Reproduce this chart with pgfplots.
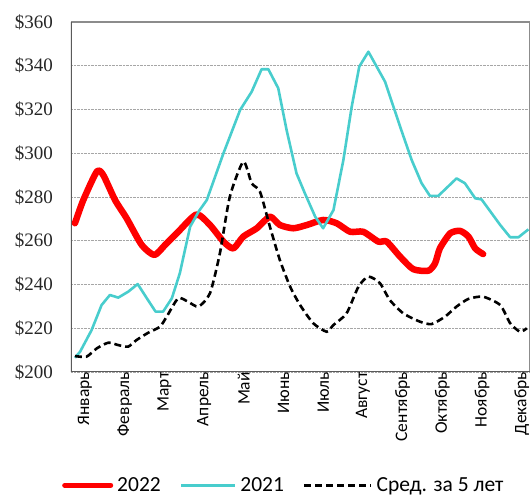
\documentclass[border=0pt]{standalone}
\usepackage{fontspec}
\setmainfont{Liberation Serif}
\newfontfamily\calfont{Carlito}
\usepackage{pgfplots}
\pgfplotsset{compat=1.18}
\definecolor{cyanline}{RGB}{72,205,205}
\definecolor{frameDark}{RGB}{90,90,90}
\definecolor{frameLight}{RGB}{140,140,140}
\begin{document}
\begin{tikzpicture}[x=1pt,y=1pt]
\begin{axis}[
  at={(71pt,128pt)}, anchor=south west,
  scale only axis, width=459pt, height=350pt,
  xmin=-0.10, xmax=11.46, ymin=200, ymax=360,
  xtick={0,1,2,3,4,5,6,7,8,9,10,11},
  xticklabels={Январь,Февраль,Март,Апрель,Май,Июнь,Июль,Август,Сентябрь,Октябрь,Ноябрь,Декабрь},
  xticklabel style={rotate=90, anchor=east, font=\calfont\fontsize{17.5}{20}\selectfont, text=black, inner sep=0pt, xshift=0pt, yshift=-10pt},
  ytick={200,220,240,260,280,300,320,340,360},
  yticklabels={\$200,\$220,\$240,\$260,\$280,\$300,\$320,\$340,\$360},
  yticklabel style={font=\fontsize{19}{22}\selectfont, text=black!85, anchor=east, inner sep=0pt, xshift=-18pt},
  major tick length=0pt,
  ymajorgrids, major grid style={gray!70, densely dotted, line width=0.9pt},
  axis line style={draw=none},
  legend columns=3,
  legend style={at={(-0.0196,-0.352)}, anchor=south west, draw=none, fill=none,
    font=\calfont\fontsize{21.5}{24}\selectfont, inner sep=0pt,
    /tikz/every odd column/.append style={column sep=2pt},
    /tikz/every even column/.append style={column sep=17pt}},
  legend cell align=left,
]
\draw[frameLight, line width=1.6pt] (rel axis cs:0,1) -- (rel axis cs:1,1) -- (rel axis cs:1,0);
\draw[frameDark, line width=2.2pt] (rel axis cs:0,1) -- (rel axis cs:0,0) -- (rel axis cs:1,0);

% 2022
\addplot[red, line width=6.5pt, line cap=round, line join=round, smooth, tension=0.4,
  legend image code/.code={\draw[red, line width=5pt] (0pt,0pt) -- (46pt,0pt);}] coordinates {
(0.00,268.0) (0.21,278.6) (0.55,291.6) (0.71,290.1) (1.01,278.6) (1.30,270.3)
(1.68,258.1) (2.00,253.5) (2.27,258.1) (2.60,264.1) (3.06,272.0) (3.40,267.2)
(3.74,259.6) (3.99,256.5) (4.24,261.9) (4.58,265.7) (4.91,271.0) (5.16,267.2)
(5.50,265.7) (5.84,267.2) (6.25,269.5) (6.59,268.0) (6.93,264.1) (7.26,264.1)
(7.64,259.6) (7.85,259.6) (8.19,252.7) (8.52,247.0) (8.90,246.3) (9.07,249.7)
(9.19,256.5) (9.45,263.4) (9.70,264.5) (9.91,261.9) (10.08,256.5) (10.28,253.9)
};
\addlegendentry{2022}

% 2021
\addplot[cyanline, line width=2.6pt, line join=round,
  legend image code/.code={\draw[cyanline, line width=2.6pt] (0pt,0pt) -- (54pt,0pt);}] coordinates {
(0.00,206.5) (0.13,209.3) (0.42,219.2) (0.67,230.6) (0.88,235.2) (1.09,234.0)
(1.34,236.7) (1.58,240.2) (1.81,233.7) (2.03,227.6) (2.22,227.6) (2.44,233.7)
(2.64,245.1) (2.90,266.4) (3.12,273.5) (3.32,278.6) (3.74,300.0) (4.16,319.8)
(4.45,328.1) (4.70,338.4) (4.87,338.4) (5.12,329.7) (5.33,310.6) (5.58,290.8)
(5.79,281.7) (6.05,271.0) (6.25,265.7) (6.51,274.0) (6.76,296.9) (6.97,321.3)
(7.16,339.6) (7.39,346.4) (7.81,332.7) (8.19,312.1) (8.48,296.9) (8.73,286.3)
(8.94,280.5) (9.15,280.5) (9.61,288.5) (9.82,286.3) (10.08,279.4) (10.24,278.9)
(10.71,267.2) (10.96,261.6) (11.17,261.6) (11.42,265.2)
};
\addlegendentry{2021}

% 5-year average
\addplot[black, line width=2.6pt, dash pattern=on 7pt off 4pt, smooth, tension=0.4,
  legend image code/.code={\draw[black, line width=2.6pt, dash pattern=on 7pt off 4pt] (0pt,0pt) -- (67pt,0pt);}] coordinates {
(0.00,207.3) (0.29,207.0) (0.55,210.8) (0.84,213.4) (1.09,212.3) (1.34,211.6)
(1.55,214.6) (1.85,218.0) (2.14,220.7) (2.31,225.3) (2.60,233.7) (2.85,232.1)
(3.11,229.9) (3.40,236.0) (3.65,254.3) (3.90,280.1) (4.24,296.1) (4.45,286.3)
(4.66,282.4) (4.91,266.4) (5.16,251.2) (5.42,239.0) (5.67,230.6) (6.00,222.3)
(6.34,218.4) (6.51,221.5) (6.84,226.8) (7.14,239.0) (7.39,243.6) (7.68,240.6)
(7.93,232.9) (8.27,226.8) (8.69,223.0) (8.98,221.9) (9.32,225.3) (9.61,229.9)
(9.91,233.4) (10.28,234.4) (10.71,230.6) (10.96,222.3) (11.21,218.4) (11.38,220.0)
};
\addlegendentry{Сред. за 5 лет}
\end{axis}
\pgfresetboundingbox
\path (0pt,0pt) rectangle (531pt,500pt);
\end{tikzpicture}
\end{document}
